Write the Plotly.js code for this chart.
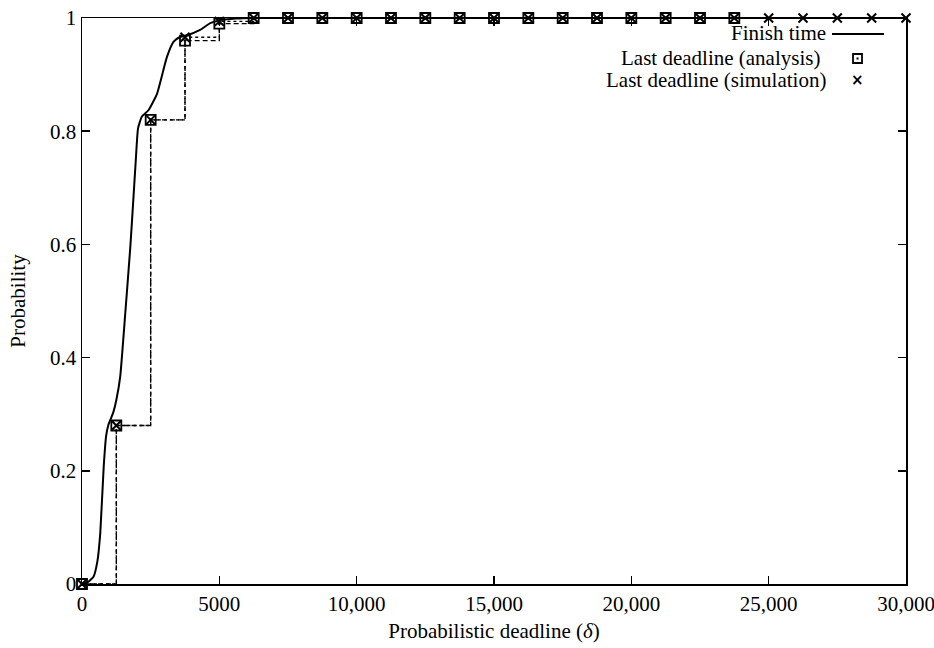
<!DOCTYPE html>
<html>
<head>
<meta charset="utf-8">
<script src="https://cdn.plot.ly/plotly-3.0.1.min.js"></script>
<style>html,body{margin:0;padding:0;background:#fff;}#chart{width:934px;height:648px;}</style>
</head>
<body>
<div id="chart"></div>
<script>
// Finish time CDF (solid curve)
const finishX = [0, 200, 420, 560, 665, 790, 880, 960, 1050, 1150, 1250, 1390, 1575, 1760, 1870, 1960, 2040, 2180, 2420, 2730, 3090, 3330, 3550, 3800, 4300, 4670, 5030, 5600, 6200, 30000];
const finishY = [0, 0.003, 0.013, 0.04, 0.09, 0.207, 0.262, 0.281, 0.292, 0.305, 0.325, 0.366, 0.478, 0.596, 0.68, 0.75, 0.805, 0.826, 0.837, 0.866, 0.931, 0.958, 0.966, 0.969, 0.979, 0.991, 0.996, 0.999, 1, 1];

// Last deadline (analysis)
const analysisX = [0, 1250, 2500, 3750, 5000, 6250, 7500, 8750, 10000, 11250, 12500, 13750, 15000, 16250, 17500, 18750, 20000, 21250, 22500, 23750];
const analysisY = [0, 0.28, 0.82, 0.96, 0.99, 1, 1, 1, 1, 1, 1, 1, 1, 1, 1, 1, 1, 1, 1, 1];

// Last deadline (simulation)
const simX = [0, 1250, 2500, 3750, 5000, 6250, 7500, 8750, 10000, 11250, 12500, 13750, 15000, 16250, 17500, 18750, 20000, 21250, 22500, 23750, 25000, 26250, 27500, 28750, 30000];
const simY = [0, 0.28, 0.82, 0.966, 0.994, 1, 1, 1, 1, 1, 1, 1, 1, 1, 1, 1, 1, 1, 1, 1, 1, 1, 1, 1, 1];

// Tick labels
const xTickVals = [0, 5000, 10000, 15000, 20000, 25000, 30000];
const xTickText = ["0", "5000", "10,000", "15,000", "20,000", "25,000", "30,000"];
const yTickVals = [0, 0.2, 0.4, 0.6, 0.8, 1];
const yTickText = ["0", "0.2", "0.4", "0.6", "0.8", "1"];

const legendLabels = ["Finish time", "Last deadline (analysis)", "Last deadline (simulation)"];

const FONT = "Liberation Serif, Times New Roman, serif";
const FS = 21;

const traces = [
  {
    x: simX, y: simY, type: 'scatter', mode: 'lines+markers', line: {shape: 'hv', color: '#000', width: 1.3, dash: 'dot'},
    marker: {symbol: 'x-thin-open', size: 9, color: '#000', line: {color: '#000', width: 2}},
    cliponaxis: false, showlegend: false, name: legendLabels[2]
  },
  {
    x: analysisX, y: analysisY, type: 'scatter', mode: 'lines+markers', line: {shape: 'hv', color: '#000', width: 1.4, dash: '5px,3px'},
    marker: {symbol: 'square-open-dot', size: 10, color: '#000', line: {color: '#000', width: 1.8}},
    cliponaxis: false, showlegend: false, name: legendLabels[1]
  },
  {
    x: finishX, y: finishY, type: 'scatter', mode: 'lines', line: {shape: 'spline', smoothing: 0.45, color: '#000', width: 2},
    cliponaxis: false, showlegend: false, name: legendLabels[0]
  }
];

// plot area pixel geometry for legend placement (paper coords)
const L = 81.7, R = 906, T = 18, B = 584;
const px = v => (v - L) / (R - L);
const py = v => (B - v) / (B - T);

const layout = {
  width: 934, height: 648,
  margin: {l: 82, r: 28, t: 18, b: 64},
  paper_bgcolor: '#fff', plot_bgcolor: '#fff',
  font: {family: FONT, size: FS, color: '#000'},
  xaxis: {
    range: [0, 30000], tickvals: xTickVals, ticktext: xTickText,
    ticks: 'inside', ticklen: 8, tickwidth: 1.5, tickcolor: '#000',
    showline: true, linecolor: '#000', linewidth: 1.5, mirror: 'ticks',
    showgrid: false, zeroline: false, ticklabeloverflow: 'allow',
    tickfont: {family: FONT, size: FS},
    title: {text: 'Probabilistic deadline (<i>δ</i>)', font: {family: FONT, size: FS}, standoff: 8}
  },
  yaxis: {
    range: [0, 1], tickvals: yTickVals, ticktext: yTickText,
    ticks: 'inside', ticklen: 8, tickwidth: 1.5, tickcolor: '#000',
    showline: true, linecolor: '#000', linewidth: 1.5, mirror: 'ticks',
    showgrid: false, zeroline: false, ticklabeloverflow: 'allow',
    tickfont: {family: FONT, size: FS},
    title: {text: 'Probability', font: {family: FONT, size: FS}, standoff: 18}
  },
  annotations: [
    {xref: 'paper', yref: 'paper', x: px(828), y: py(33), xanchor: 'right', yanchor: 'middle', text: legendLabels[0], showarrow: false, font: {family: FONT, size: FS}},
    {xref: 'paper', yref: 'paper', x: px(822), y: py(58), xanchor: 'right', yanchor: 'middle', text: legendLabels[1], showarrow: false, font: {family: FONT, size: FS}},
    {xref: 'paper', yref: 'paper', x: px(828), y: py(80), xanchor: 'right', yanchor: 'middle', text: legendLabels[2], showarrow: false, font: {family: FONT, size: FS}},
    {xref: 'paper', yref: 'paper', x: px(857), y: py(80), xanchor: 'center', yanchor: 'middle', text: '<b>×</b>', showarrow: false, font: {family: 'DejaVu Sans', size: 15}}
  ],
  shapes: [
    {type: 'line', xref: 'paper', yref: 'paper', x0: px(832), x1: px(884), y0: py(34), y1: py(34), line: {color: '#000', width: 2}},
    {type: 'rect', xref: 'paper', yref: 'paper', x0: px(853), x1: px(862), y0: py(54), y1: py(63), line: {color: '#000', width: 1.8}},
    {type: 'rect', xref: 'paper', yref: 'paper', x0: px(856.5), x1: px(858.5), y0: py(57.5), y1: py(59.5), fillcolor: '#000', line: {color: '#000', width: 0}}
  ]
};

Plotly.newPlot('chart', traces, layout, {displayModeBar: false, staticPlot: true});
</script>
</body>
</html>
